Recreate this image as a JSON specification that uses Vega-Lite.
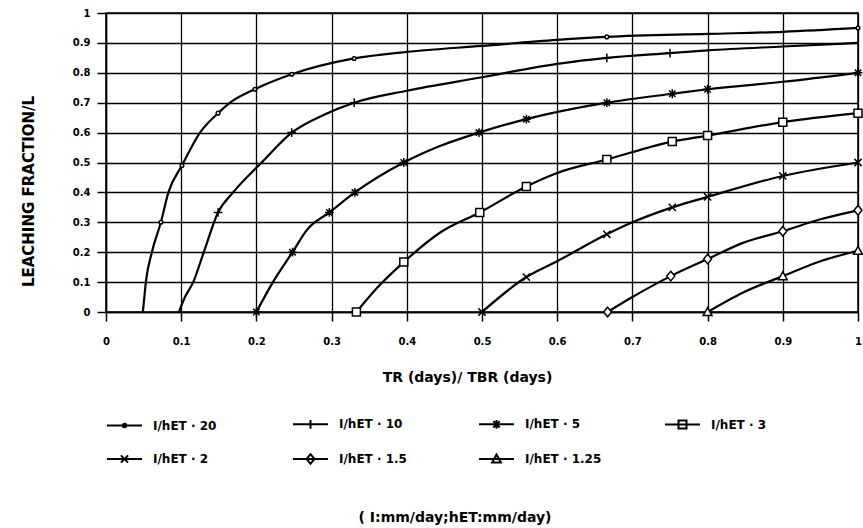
{
  "$schema": "https://vega.github.io/schema/vega-lite/v6.json",
  "autosize": "none",
  "width": 752,
  "height": 299,
  "padding": {"left": 106, "top": 13, "right": 5, "bottom": 216},
  "background": "white",
  "config": {
    "view": {"stroke": "black", "strokeWidth": 1.5},
    "font": "DejaVu Sans"
  },
  "title": {
    "text": "( I:mm/day;hET:mm/day)",
    "orient": "bottom",
    "anchor": "middle",
    "frame": "group",
    "offset": 43,
    "dx": -27,
    "font": "DejaVu Sans",
    "fontSize": 14,
    "fontWeight": "bold",
    "color": "black"
  },
  "data": {
    "values": [
      {"s": "I/hET · 20", "x": 0.049, "y": 0, "m": 0},
      {"s": "I/hET · 20", "x": 0.051, "y": 0.05, "m": 0},
      {"s": "I/hET · 20", "x": 0.053, "y": 0.1, "m": 0},
      {"s": "I/hET · 20", "x": 0.061, "y": 0.2, "m": 0},
      {"s": "I/hET · 20", "x": 0.073, "y": 0.3, "m": 1},
      {"s": "I/hET · 20", "x": 0.083, "y": 0.4, "m": 0},
      {"s": "I/hET · 20", "x": 0.101, "y": 0.49, "m": 1},
      {"s": "I/hET · 20", "x": 0.125, "y": 0.6, "m": 0},
      {"s": "I/hET · 20", "x": 0.149, "y": 0.665, "m": 1},
      {"s": "I/hET · 20", "x": 0.165, "y": 0.7, "m": 0},
      {"s": "I/hET · 20", "x": 0.198, "y": 0.745, "m": 1},
      {"s": "I/hET · 20", "x": 0.247, "y": 0.795, "m": 1},
      {"s": "I/hET · 20", "x": 0.33, "y": 0.848, "m": 1},
      {"s": "I/hET · 20", "x": 0.4, "y": 0.87, "m": 0},
      {"s": "I/hET · 20", "x": 0.5, "y": 0.89, "m": 0},
      {"s": "I/hET · 20", "x": 0.6, "y": 0.91, "m": 0},
      {"s": "I/hET · 20", "x": 0.666, "y": 0.92, "m": 1},
      {"s": "I/hET · 20", "x": 0.8, "y": 0.93, "m": 0},
      {"s": "I/hET · 20", "x": 0.9, "y": 0.937, "m": 0},
      {"s": "I/hET · 20", "x": 1, "y": 0.95, "m": 1},

      {"s": "I/hET · 10", "x": 0.097, "y": 0, "m": 0},
      {"s": "I/hET · 10", "x": 0.105, "y": 0.05, "m": 0},
      {"s": "I/hET · 10", "x": 0.116, "y": 0.1, "m": 0},
      {"s": "I/hET · 10", "x": 0.13, "y": 0.2, "m": 0},
      {"s": "I/hET · 10", "x": 0.149, "y": 0.333, "m": 1},
      {"s": "I/hET · 10", "x": 0.169, "y": 0.4, "m": 0},
      {"s": "I/hET · 10", "x": 0.207, "y": 0.5, "m": 0},
      {"s": "I/hET · 10", "x": 0.247, "y": 0.6, "m": 1},
      {"s": "I/hET · 10", "x": 0.29, "y": 0.66, "m": 0},
      {"s": "I/hET · 10", "x": 0.33, "y": 0.7, "m": 1},
      {"s": "I/hET · 10", "x": 0.4, "y": 0.74, "m": 0},
      {"s": "I/hET · 10", "x": 0.5, "y": 0.785, "m": 0},
      {"s": "I/hET · 10", "x": 0.6, "y": 0.83, "m": 0},
      {"s": "I/hET · 10", "x": 0.666, "y": 0.85, "m": 1},
      {"s": "I/hET · 10", "x": 0.75, "y": 0.866, "m": 1},
      {"s": "I/hET · 10", "x": 0.8, "y": 0.875, "m": 0},
      {"s": "I/hET · 10", "x": 0.9, "y": 0.888, "m": 0},
      {"s": "I/hET · 10", "x": 1, "y": 0.9, "m": 0},

      {"s": "I/hET · 5", "x": 0.2, "y": 0, "m": 1},
      {"s": "I/hET · 5", "x": 0.222, "y": 0.1, "m": 0},
      {"s": "I/hET · 5", "x": 0.248, "y": 0.2, "m": 1},
      {"s": "I/hET · 5", "x": 0.267, "y": 0.274, "m": 0},
      {"s": "I/hET · 5", "x": 0.297, "y": 0.333, "m": 1},
      {"s": "I/hET · 5", "x": 0.331, "y": 0.4, "m": 1},
      {"s": "I/hET · 5", "x": 0.396, "y": 0.5, "m": 1},
      {"s": "I/hET · 5", "x": 0.444, "y": 0.555, "m": 0},
      {"s": "I/hET · 5", "x": 0.496, "y": 0.6, "m": 1},
      {"s": "I/hET · 5", "x": 0.559, "y": 0.645, "m": 1},
      {"s": "I/hET · 5", "x": 0.666, "y": 0.7, "m": 1},
      {"s": "I/hET · 5", "x": 0.753, "y": 0.73, "m": 1},
      {"s": "I/hET · 5", "x": 0.8, "y": 0.745, "m": 1},
      {"s": "I/hET · 5", "x": 0.9, "y": 0.77, "m": 0},
      {"s": "I/hET · 5", "x": 1, "y": 0.8, "m": 1},

      {"s": "I/hET · 3", "x": 0.333, "y": 0, "m": 1},
      {"s": "I/hET · 3", "x": 0.364, "y": 0.09, "m": 0},
      {"s": "I/hET · 3", "x": 0.396, "y": 0.167, "m": 1},
      {"s": "I/hET · 3", "x": 0.444, "y": 0.265, "m": 0},
      {"s": "I/hET · 3", "x": 0.497, "y": 0.333, "m": 1},
      {"s": "I/hET · 3", "x": 0.559, "y": 0.42, "m": 1},
      {"s": "I/hET · 3", "x": 0.6, "y": 0.465, "m": 0},
      {"s": "I/hET · 3", "x": 0.666, "y": 0.51, "m": 1},
      {"s": "I/hET · 3", "x": 0.753, "y": 0.57, "m": 1},
      {"s": "I/hET · 3", "x": 0.8, "y": 0.59, "m": 1},
      {"s": "I/hET · 3", "x": 0.9, "y": 0.635, "m": 1},
      {"s": "I/hET · 3", "x": 1, "y": 0.665, "m": 1},

      {"s": "I/hET · 2", "x": 0.5, "y": 0, "m": 1},
      {"s": "I/hET · 2", "x": 0.559, "y": 0.117, "m": 1},
      {"s": "I/hET · 2", "x": 0.6, "y": 0.17, "m": 0},
      {"s": "I/hET · 2", "x": 0.666, "y": 0.26, "m": 1},
      {"s": "I/hET · 2", "x": 0.7, "y": 0.3, "m": 0},
      {"s": "I/hET · 2", "x": 0.753, "y": 0.35, "m": 1},
      {"s": "I/hET · 2", "x": 0.8, "y": 0.385, "m": 1},
      {"s": "I/hET · 2", "x": 0.9, "y": 0.455, "m": 1},
      {"s": "I/hET · 2", "x": 1, "y": 0.5, "m": 1},

      {"s": "I/hET · 1.5", "x": 0.667, "y": 0, "m": 1},
      {"s": "I/hET · 1.5", "x": 0.7, "y": 0.05, "m": 0},
      {"s": "I/hET · 1.5", "x": 0.751, "y": 0.12, "m": 1},
      {"s": "I/hET · 1.5", "x": 0.8, "y": 0.177, "m": 1},
      {"s": "I/hET · 1.5", "x": 0.848, "y": 0.232, "m": 0},
      {"s": "I/hET · 1.5", "x": 0.9, "y": 0.27, "m": 1},
      {"s": "I/hET · 1.5", "x": 0.95, "y": 0.31, "m": 0},
      {"s": "I/hET · 1.5", "x": 1, "y": 0.34, "m": 1},

      {"s": "I/hET · 1.25", "x": 0.8, "y": 0, "m": 1},
      {"s": "I/hET · 1.25", "x": 0.848, "y": 0.066, "m": 0},
      {"s": "I/hET · 1.25", "x": 0.9, "y": 0.12, "m": 1},
      {"s": "I/hET · 1.25", "x": 0.95, "y": 0.17, "m": 0},
      {"s": "I/hET · 1.25", "x": 1, "y": 0.205, "m": 1}
    ]
  },
  "encoding": {
    "x": {
      "field": "x",
      "type": "quantitative",
      "scale": {"domain": [0, 1], "nice": false},
      "axis": {
        "values": [0, 0.1, 0.2, 0.3, 0.4, 0.5, 0.6, 0.7, 0.8, 0.9, 1],
        "format": ".1~f",
        "title": "TR (days)/ TBR (days)",
        "labelFont": "DejaVu Sans",
        "labelFontSize": 10,
        "labelFontWeight": "bold",
        "labelColor": "black",
        "labelPadding": 15,
        "labelFlush": false,
        "labelBound": false,
        "labelOverlap": false,
        "tickSize": 9,
        "tickColor": "black",
        "tickWidth": 1.5,
        "domainColor": "black",
        "domainWidth": 1.5,
        "grid": true,
        "gridColor": "black",
        "gridWidth": 1.3,
        "gridOpacity": 1,
        "titleFont": "DejaVu Sans",
        "titleFontSize": 14,
        "titleFontWeight": "bold",
        "titleColor": "black",
        "titleX": 361,
        "titleY": 65,
        "titleBaseline": "middle",
        "titleAlign": "center"
      }
    },
    "y": {
      "field": "y",
      "type": "quantitative",
      "scale": {"domain": [0, 1], "nice": false},
      "axis": {
        "values": [0, 0.1, 0.2, 0.3, 0.4, 0.5, 0.6, 0.7, 0.8, 0.9, 1],
        "format": ".1~f",
        "title": "LEACHING  FRACTION/L",
        "labelFont": "DejaVu Sans",
        "labelFontSize": 10,
        "labelFontWeight": "bold",
        "labelColor": "black",
        "labelPadding": 7,
        "labelFlush": false,
        "labelBound": false,
        "labelOverlap": false,
        "tickSize": 9,
        "tickColor": "black",
        "tickWidth": 1.5,
        "domainColor": "black",
        "domainWidth": 1.5,
        "grid": true,
        "gridColor": "black",
        "gridWidth": 1.3,
        "gridOpacity": 1,
        "titleFont": "DejaVu Sans",
        "titleFontSize": 15,
        "titleFontWeight": "bold",
        "titleColor": "black",
        "titleAngle": -90,
        "titleX": -78,
        "titleY": 178,
        "titleBaseline": "middle",
        "titleAlign": "center"
      }
    }
  },
  "layer": [
    {
      "mark": {"type": "line", "interpolate": "monotone", "color": "black", "strokeWidth": 2.2},
      "encoding": {"detail": {"field": "s"}}
    },
    {
      "transform": [{"filter": "datum.m == 1"}],
      "mark": {"type": "point", "filled": true, "fill": "white", "stroke": "black", "strokeWidth": 1.5, "opacity": 1, "size": 64},
      "encoding": {
        "shape": {
          "field": "s",
          "type": "nominal",
          "scale": {
            "domain": ["I/hET · 20", "I/hET · 10", "I/hET · 5", "I/hET · 3", "I/hET · 2", "I/hET · 1.5", "I/hET · 1.25"],
            "range": [
              "M-0.45,0A0.45,0.45,0,1,0,0.45,0A0.45,0.45,0,1,0,-0.45,0Z",
              "M0,-1.1V1.1M-1.1,0H1.1",
              "M0,-1.1V1.1M-1.1,0H1.1M-0.8,-0.8L0.8,0.8M-0.8,0.8L0.8,-0.8",
              "M-1,-1H1V1H-1Z",
              "M-0.9,-0.9L0.9,0.9M-0.9,0.9L0.9,-0.9",
              "M0,-1.2L1,0L0,1.2L-1,0Z",
              "M0,-1.1L1.1,0.9H-1.1Z"
            ]
          },
          "legend": null
        }
      }
    },
    {
      "transform": [{"filter": "false"}],
      "mark": {"type": "point", "filled": false, "color": "black", "strokeWidth": 1.5, "opacity": 1, "size": 64},
      "encoding": {
        "shape": {
          "field": "s",
          "type": "nominal",
          "scale": {
            "domain": ["I/hET · 20", "I/hET · 10", "I/hET · 5", "I/hET · 3", "I/hET · 2", "I/hET · 1.5", "I/hET · 1.25"],
            "range": [
              "M0,0H8.75M3.925,0A0.45,0.45,0,1,0,4.825,0A0.45,0.45,0,1,0,3.925,0Z",
              "M0,0H8.75M4.375,-1.1V1.1",
              "M0,0H8.75M4.375,-1.1V1.1M3.575,-0.8L5.175,0.8M3.575,0.8L5.175,-0.8",
              "M0,0H8.75M3.375,-1H5.375V1H3.375Z",
              "M0,0H8.75M3.475,-0.9L5.275,0.9M3.475,0.9L5.275,-0.9",
              "M0,0H8.75M4.375,-1.2L5.375,0L4.375,1.2L3.375,0Z",
              "M0,0H8.75M4.375,-1.1L5.475,0.9H3.275Z"
            ]
          },
          "legend": {
            "orient": "none",
            "legendX": -5,
            "legendY": 405,
            "direction": "horizontal",
            "columns": 4,
            "title": null,
            "gridAlign": "all",
            "columnPadding": 57,
            "rowPadding": 17,
            "labelFont": "DejaVu Sans",
            "labelFontSize": 12,
            "labelFontWeight": "bold",
            "labelColor": "black",
            "labelOffset": 40,
            "symbolSize": 64,
            "symbolStrokeWidth": 2,
            "symbolStrokeColor": "black",
            "symbolOpacity": 1
          }
        }
      }
    }
  ],
  "resolve": {"scale": {"shape": "independent"}, "legend": {"shape": "independent"}}
}
